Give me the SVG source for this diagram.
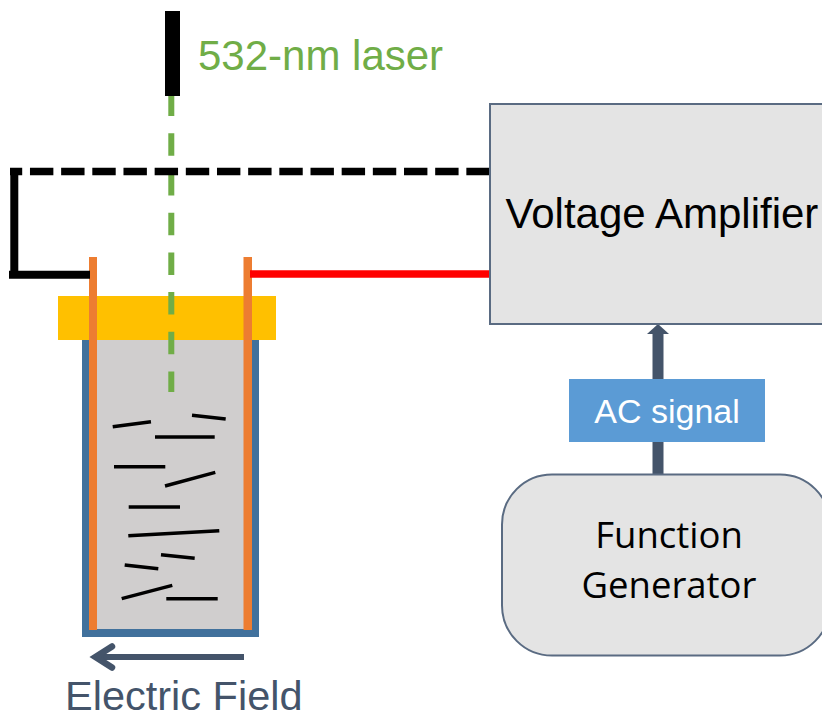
<svg xmlns="http://www.w3.org/2000/svg" width="822" height="715" viewBox="0 0 822 715">
<style>
text{font-family:"Liberation Sans",Arial,sans-serif}
.rod{stroke:#000;stroke-width:3.400;fill:none}
.box{fill:#E4E4E4;stroke:#5A6B82;stroke-width:2}
.el{fill:#ED7D31}
.ar{stroke:#44546A;fill:none}
</style>
<rect width="822" height="715" fill="#fff"/>
<g id="cell">
<rect x="82" y="340" width="177" height="297" fill="#41719C"/>
<rect x="89" y="340" width="163" height="289" fill="#D0CECE"/>
<rect x="58" y="296" width="218" height="44" fill="#FFC000"/>
<rect class="el" x="89" y="257" width="8" height="373"/>
<rect class="el" x="243.500" y="257" width="8.500" height="373"/>
</g>
<g id="rods">
<line class="rod" x1="112.700" y1="426.700" x2="151" y2="421.700"/>
<line class="rod" x1="192" y1="415.300" x2="225.700" y2="419"/>
<line class="rod" x1="155" y1="437" x2="214.700" y2="437"/>
<line class="rod" x1="114" y1="466.700" x2="165.300" y2="466.700"/>
<line class="rod" x1="165" y1="486" x2="215.300" y2="472.300"/>
<line class="rod" x1="128.700" y1="507" x2="180" y2="507"/>
<line class="rod" x1="128.300" y1="535.700" x2="219.300" y2="530.700"/>
<line class="rod" x1="161" y1="554.700" x2="194.700" y2="558.300"/>
<line class="rod" x1="124.700" y1="565" x2="158.300" y2="568.700"/>
<line class="rod" x1="121.700" y1="598.700" x2="172.300" y2="585.300"/>
<line class="rod" x1="166.300" y1="598.700" x2="217.700" y2="598.700"/>
</g>
<g id="connectors">
<line x1="171.300" y1="96" x2="171.300" y2="392" stroke="#70AD47" stroke-width="6" stroke-dasharray="22.500 17.200" stroke-dashoffset="2.400"/>
<rect x="165" y="11" width="15" height="85" fill="#000"/>
<line x1="10" y1="171.500" x2="490" y2="171.500" stroke="#000" stroke-width="7.500" stroke-dasharray="23.400 7.770" stroke-dashoffset="11.200"/>
<polyline points="14.300,168 14.300,274.700 9,274.700 90,274.700" fill="none" stroke="#000" stroke-width="8"/>
<line x1="250" y1="274" x2="490" y2="274" stroke="#F00" stroke-width="7.500"/>
<line class="ar" x1="658" y1="474" x2="658" y2="334" stroke-width="11"/>
<polygon points="658,324 669,334 647,334" fill="#44546A"/>
<line class="ar" x1="244" y1="657" x2="96" y2="657" stroke-width="6"/>
<polyline class="ar" points="112,646.500 95.500,657 112,667.500" stroke-width="6.500" stroke-linecap="round" stroke-linejoin="miter"/>
</g>
<g id="laser-label"><text x="198" y="69.500" font-size="42" fill="#70AD47">532-nm laser</text></g>
<g id="voltage-amplifier">
<rect class="box" x="490" y="104" width="340" height="220"/>
<text x="505.500" y="228" font-size="42" fill="#000">Voltage Amplifier</text>
</g>
<g id="ac-signal">
<rect x="569" y="379" width="196" height="63" fill="#5B9BD5"/>
<text x="667" y="423" font-size="34" fill="#fff" text-anchor="middle">AC signal</text>
</g>
<g id="function-generator">
<rect class="box" x="502" y="474.500" width="328" height="181" rx="50" ry="50"/>
<text x="669" y="548" font-size="36.500" fill="#000" text-anchor="middle" style="font-family:'Open Sans',sans-serif">Function</text>
<text x="669" y="598" font-size="36.500" fill="#000" text-anchor="middle" style="font-family:'Open Sans',sans-serif">Generator</text>
</g>
<g id="field-label"><text x="65" y="710" font-size="41.500" fill="#44546A">Electric Field</text></g>
</svg>
